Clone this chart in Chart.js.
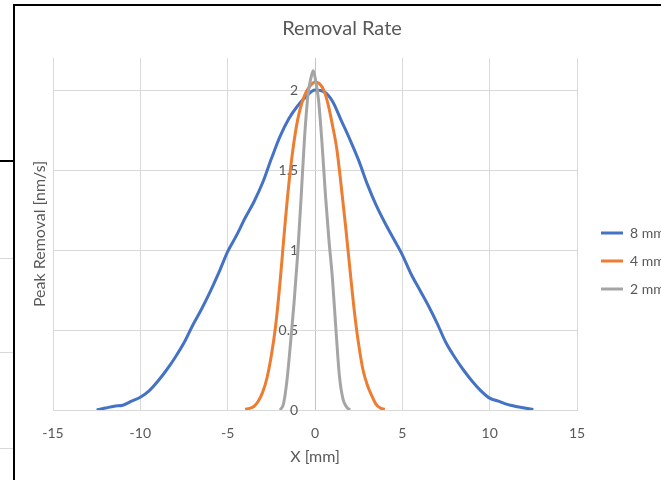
<!DOCTYPE html>
<html>
<head>
<meta charset="utf-8">
<title>Removal Rate</title>
<script src="https://cdn.jsdelivr.net/npm/chart.js@4/dist/chart.umd.min.js"></script>
<style>
  html, body { margin: 0; padding: 0; background: #fff; overflow: hidden; width: 661px; height: 480px; }
  .frame {
    position: absolute; left: 13px; top: 4px; width: 700px; height: 540px;
    border-left: 2px solid #000; border-top: 2px solid #000;
  }
  .wrap { position: absolute; left: 0; top: 0; width: 665px; height: 510px; }
  .edge { position: absolute; left: 0; width: 13px; height: 1px; background: #d9d9d9; }
  .edge.dark { height: 2px; background: #000; }
</style>
</head>
<body>
<!-- bits of the neighbouring sheet objects on the left -->
<div class="edge dark" style="top:160px"></div>
<div class="edge" style="top:258px"></div>
<div class="edge" style="top:352px"></div>
<div class="edge" style="top:448px"></div>

<div class="frame">
  <div class="wrap"><canvas id="rateChart" width="665" height="510"></canvas></div>
</div>

<script>
// beam sizes
const beamLabels = ['8 mm', '4 mm', '2 mm'];
const lineColors = ['#4472C4', '#ED7D31', '#A5A5A5'];

// 8 mm profile
const xs8 = [-12.5, -12, -11.5, -11, -10.5, -10, -9.5, -9, -8.5, -8, -7.5, -7, -6.5, -6, -5.5, -5,
  -4.5, -4, -3.5, -3, -2.5, -2, -1.5, -1, -0.5, 0, 0.5, 1, 1.5, 2, 2.5, 3, 3.5, 4, 4.5, 5,
  5.5, 6, 6.5, 7, 7.5, 8, 8.5, 9, 9.5, 10, 10.5, 11, 11.5, 12, 12.5];
const removal8 = [0, 0.012, 0.024, 0.03, 0.055, 0.08, 0.12, 0.18, 0.25, 0.33, 0.42, 0.53, 0.63, 0.74, 0.86, 0.99,
  1.09, 1.2, 1.3, 1.42, 1.57, 1.71, 1.82, 1.9, 1.96, 2.0, 1.99, 1.93, 1.81, 1.69, 1.56, 1.41, 1.28, 1.17, 1.07, 0.97,
  0.85, 0.75, 0.65, 0.54, 0.42, 0.33, 0.25, 0.18, 0.12, 0.074, 0.055, 0.035, 0.022, 0.012, 0.003];

// 4 mm profile
const xs4 = [-4, -3.75, -3.5, -3.25, -3, -2.75, -2.5, -2.25, -2, -1.75, -1.5, -1.25, -1, -0.75, -0.5, -0.25, 0,
  0.25, 0.5, 0.75, 1, 1.25, 1.5, 1.75, 2, 2.25, 2.5, 2.75, 3, 3.25, 3.5, 3.75, 4];
const removal4 = [0.005, 0.01, 0.022, 0.055, 0.11, 0.2, 0.34, 0.53, 0.8, 1.12, 1.41, 1.64, 1.81, 1.92, 1.99, 2.03, 2.05,
  2.04, 2.0, 1.91, 1.78, 1.63, 1.4, 1.15, 0.88, 0.62, 0.41, 0.25, 0.155, 0.09, 0.035, 0.012, 0.004];

// 2 mm profile
const xs2 = [-2, -1.8, -1.6, -1.4, -1.2, -1, -0.8, -0.6, -0.4, -0.2, -0.1, 0, 0.2, 0.4, 0.6, 0.8, 1, 1.2, 1.4, 1.6, 1.8, 2];
const removal2 = [0, 0.04, 0.19, 0.42, 0.67, 0.96, 1.32, 1.7, 1.97, 2.09, 2.12, 2.08, 1.94, 1.67, 1.34, 1.06, 0.82, 0.5, 0.21, 0.07, 0.02, 0];

const xTicks = [-15, -10, -5, 0, 5, 10, 15];
const yTicks = [0, 0.5, 1, 1.5, 2];

const textGrey = '#595959';
const gridGrey = '#d9d9d9';
const axisGrey = '#c4c4c4';

Chart.defaults.font.family = 'Lato, "Open Sans", sans-serif';
Chart.defaults.color = textGrey;

function points(xs, ys) {
  return xs.map((x, i) => ({ x: x, y: ys[i] }));
}

const series = [[xs8, removal8], [xs4, removal4], [xs2, removal2]];

new Chart(document.getElementById('rateChart'), {
  type: 'line',
  data: {
    datasets: series.map((s, i) => ({
      label: beamLabels[i],
      data: points(s[0], s[1]),
      borderColor: lineColors[i],
      backgroundColor: lineColors[i],
      borderWidth: 3,
      pointRadius: 0,
      cubicInterpolationMode: 'monotone',
      order: 3 - i
    }))
  },
  options: {
    responsive: false,
    animation: false,
    layout: { padding: { left: 6, right: 17, top: 0, bottom: 0 } },
    plugins: {
      title: {
        display: true,
        text: 'Removal Rate',
        color: textGrey,
        font: { size: 20, weight: 'normal' },
        padding: { top: 11, bottom: 17 }
      },
      legend: {
        position: 'right',
        maxWidth: 76,
        labels: {
          usePointStyle: true,
          pointStyle: 'line',
          pointStyleWidth: 22,
          padding: 14,
          color: textGrey,
          font: { size: 14 },
          sort: (a, b) => a.datasetIndex - b.datasetIndex
        }
      },
      tooltip: { enabled: false }
    },
    scales: {
      x: {
        type: 'linear',
        min: -15,
        max: 15,
        afterBuildTicks: scale => { scale.ticks = xTicks.map(v => ({ value: v })); },
        // the x = 0 grid line doubles as the vertical axis line
        grid: {
          color: c => (c.tick && c.tick.value === 0 ? axisGrey : gridGrey),
          drawTicks: false
        },
        border: { color: gridGrey },
        ticks: { padding: 15, font: { size: 14 } },
        title: {
          display: true,
          text: 'X [mm]',
          color: textGrey,
          font: { size: 16 },
          padding: { top: -9.4, bottom: 49.4 }
        }
      },
      // value labels sit just left of x = 0
      y: {
        type: 'linear',
        position: { x: -0.97 },
        min: 0,
        max: 2.2,
        afterBuildTicks: scale => { scale.ticks = yTicks.map(v => ({ value: v })); },
        grid: { color: gridGrey, drawTicks: false },
        border: { display: false },
        ticks: { padding: 0, font: { size: 14 }, callback: v => String(v) }
      },
      // left strip that only carries the axis title
      yTitle: {
        axis: 'y',
        type: 'linear',
        position: 'left',
        grid: { display: false, drawTicks: false },
        border: { display: false },
        ticks: { display: false },
        title: {
          display: true,
          text: 'Peak Removal [nm/s]',
          color: textGrey,
          font: { size: 16 },
          padding: { top: 9.4, bottom: 0 }
        },
        afterFit: scale => { scale.width = 32; }
      },
      // narrow gap between plot area and legend
      gap: {
        axis: 'y',
        type: 'linear',
        position: 'right',
        grid: { display: false, drawTicks: false },
        border: { display: false },
        ticks: { display: false },
        afterFit: scale => { scale.width = 10; }
      }
    }
  }
});
</script>
</body>
</html>
